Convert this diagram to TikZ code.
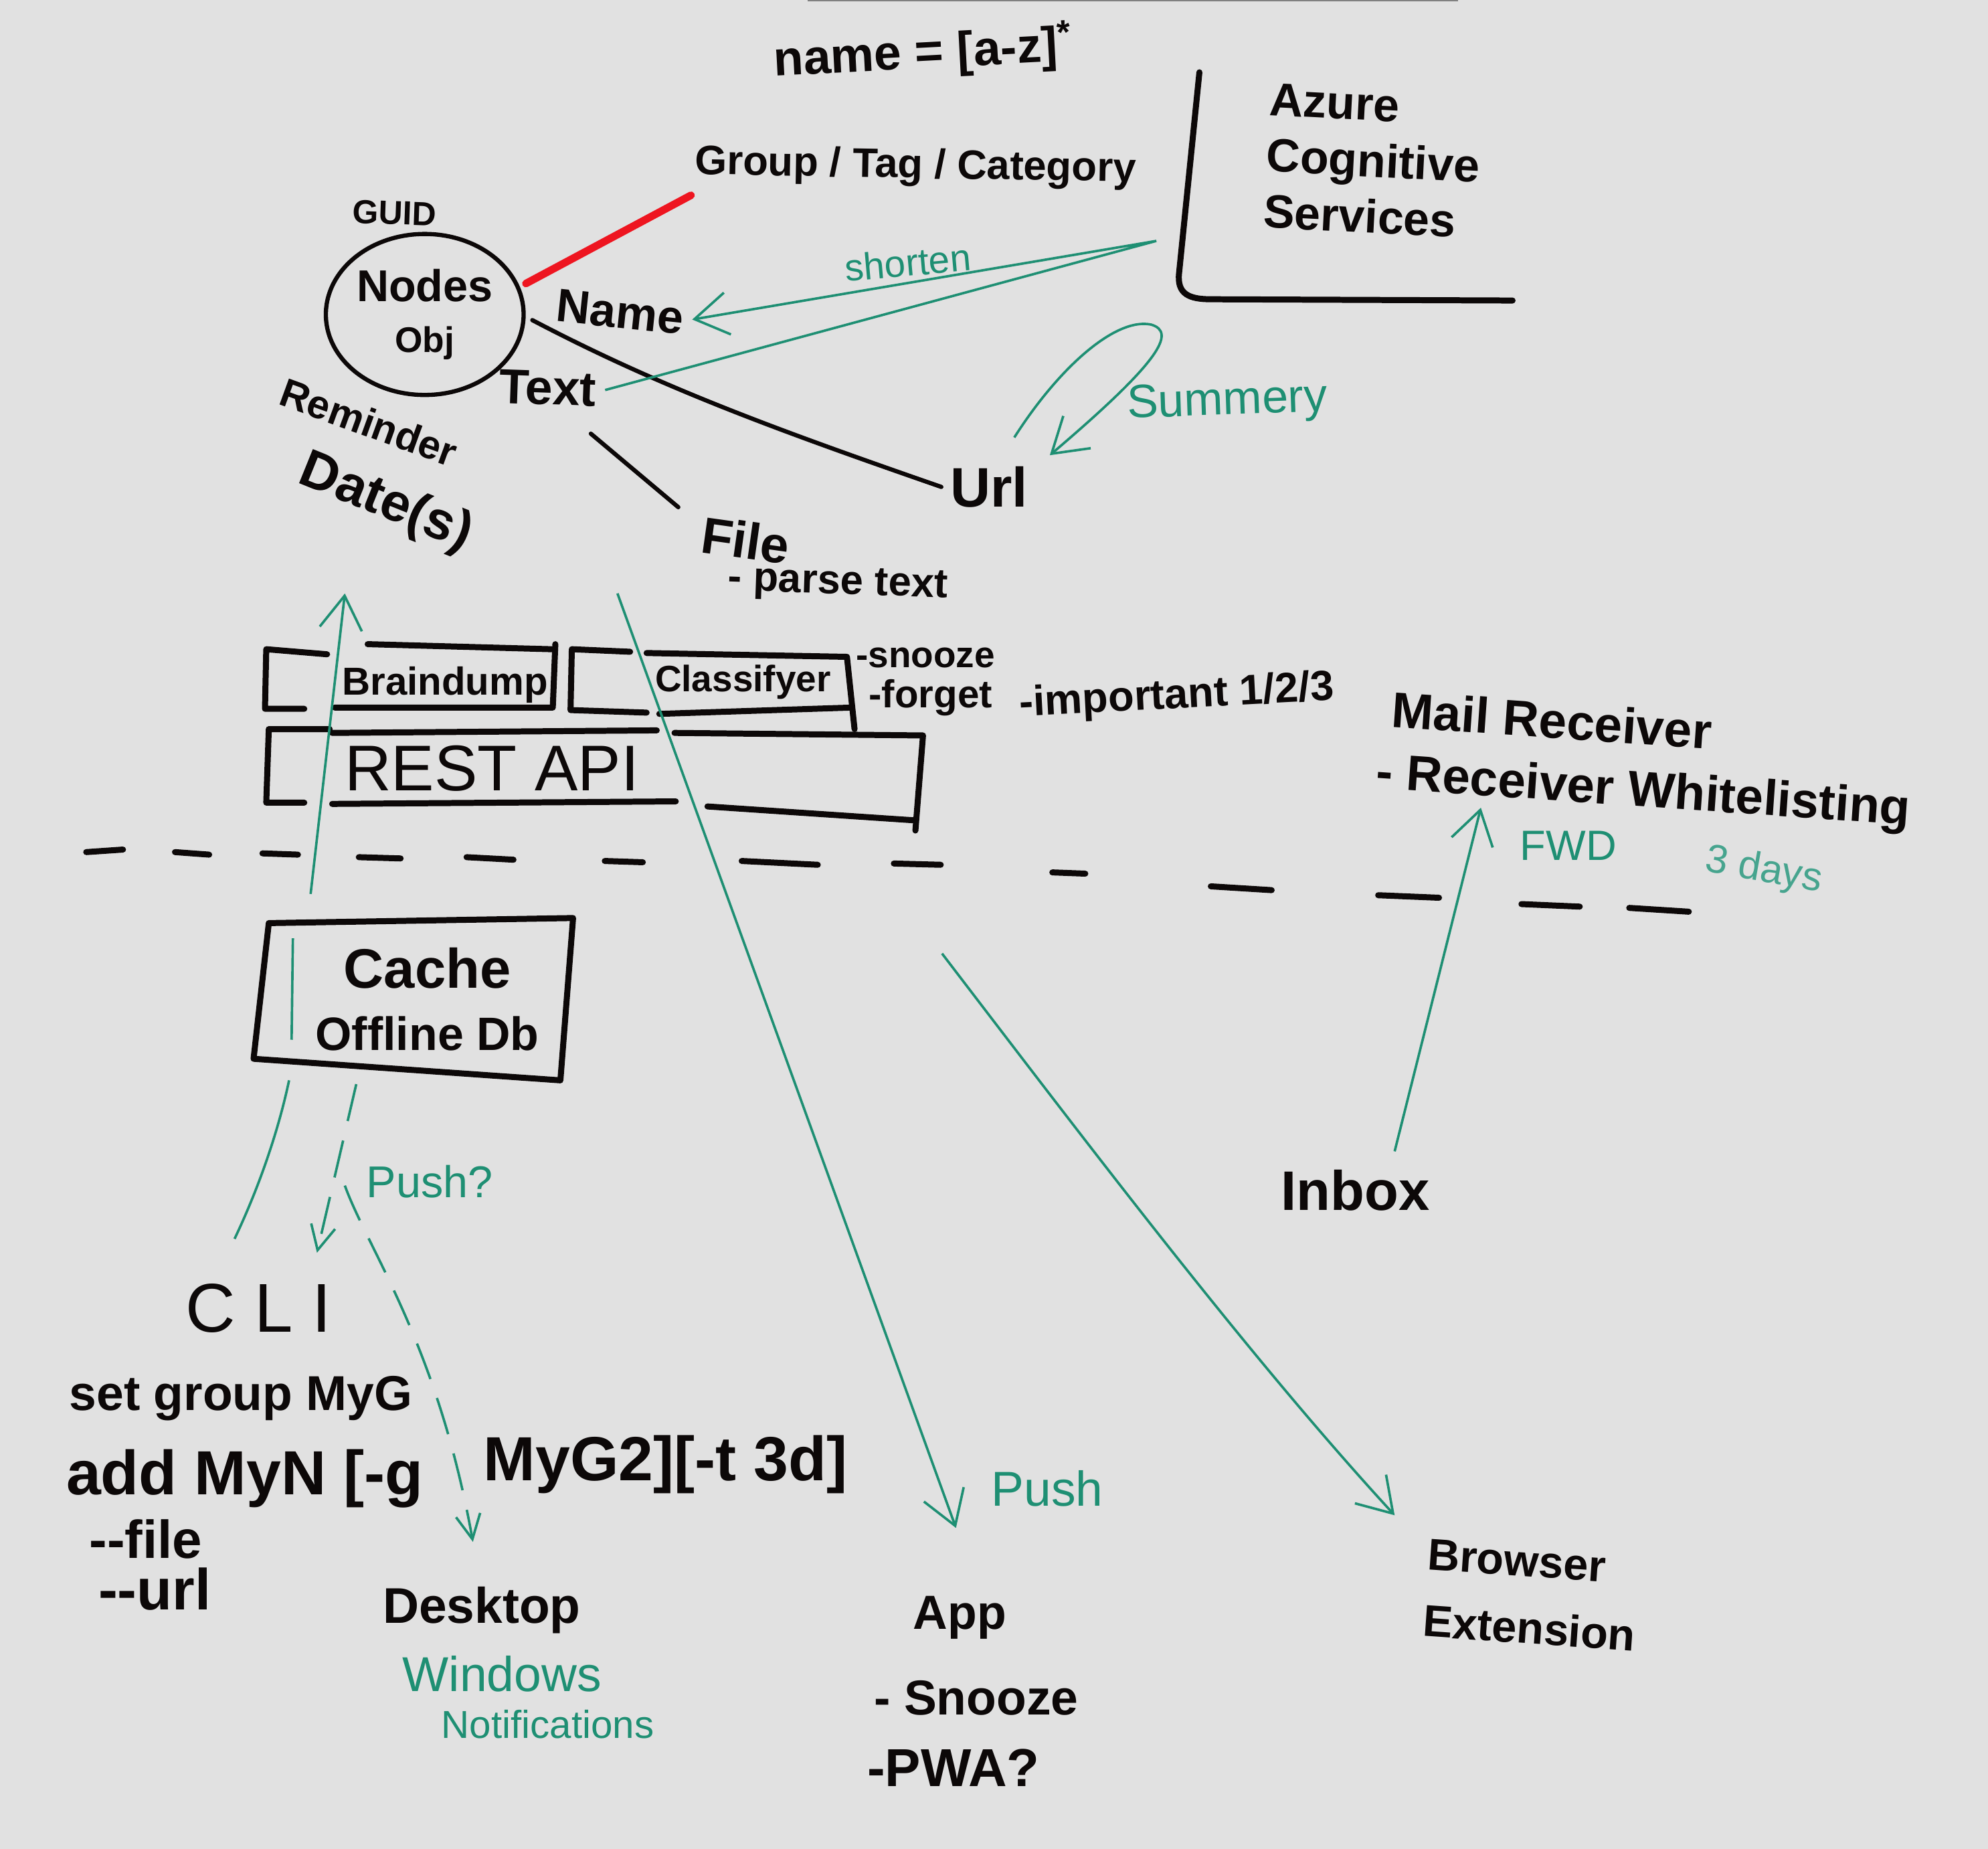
\documentclass[tikz,border=0pt]{standalone}
\usepackage{fontspec}
\usepackage{xcolor}
\usepackage{tikz}
\usetikzlibrary{shapes.geometric, arrows.meta, calc}
\setmainfont{Liberation Sans}
\definecolor{paper}{HTML}{E1E1E1}
\definecolor{inkblack}{HTML}{0C0808}
\definecolor{penteal}{HTML}{1E8F73}
\definecolor{fadeteal}{HTML}{46A48E}
\definecolor{penred}{HTML}{EE1520}
\tikzset{
  inklabel/.style={
    text=inkblack, inner sep=0pt, outer sep=4pt, align=left,
    font=\bfseries\fontsize{#1}{\the\dimexpr #1pt*12/10\relax}\selectfont
  },
  teallabel/.style={
    text=penteal, inner sep=0pt, outer sep=4pt, align=left,
    font=\fontsize{#1}{\the\dimexpr #1pt*12/10\relax}\selectfont
  },
  blackline/.style={draw=inkblack, line width=1.9pt, line cap=round},
  boxline/.style={draw=inkblack, line width=2.7pt, line cap=round, line join=round},
  redline/.style={draw=penred, line width=3.4pt, line cap=round},
  tealline/.style={draw=penteal, line width=1.1pt},
  tealarrow/.style={tealline, -{Straight Barb[length=15pt,width=19pt]}},
  dasharrow/.style={tealline, dash pattern=on 17pt off 9pt, -{Straight Barb[length=11pt,width=11pt]}},
}
\begin{document}
\begin{tikzpicture}[x=0.02cm, y=-0.02cm]
    \path[use as bounding box, fill=paper] (0,0) rectangle (1568,1458);
    \draw[gray, line width=0.5pt] (637,0.5) -- (1150,0.5);

    % object and its fields
    \node[ellipse, draw=inkblack, line width=1.9pt, minimum width=3.12cm, minimum height=2.54cm,
      inklabel=20, inner sep=0pt, align=center] (nodeobj) at (335,248) {Nodes\\[-1pt]{\fontsize{16}{16}\selectfont Obj}};
    \node[inklabel=15, rotate=-2] (guidlabel) at (311,168) {GUID};
    \node[inklabel=21, rotate=-6] (namelabel) at (489,246) {Name};
    \node[inklabel=22, rotate=-2] (textlabel) at (432,306) {Text};
    \node[inklabel=25] (urllabel) at (780,384) {Url};
    \node[inklabel=23, rotate=-8] (filelabel) at (588,426) {File};
    \node[inklabel=18.5, rotate=-2] (parselabel) at (661,461) {- parse text};
    \node[inklabel=18, rotate=-20] (reminderlabel) at (291,333) {Reminder};
    \node[inklabel=24, rotate=-22] (datelabel) at (304,397) {Date(s)};
    \node[inklabel=22, rotate=3] (namerule) at (728,42) {name = [a-z]\textsuperscript{*}};
    \node[inklabel=18.5, rotate=-1] (grouptag) at (722,132) {Group / Tag / Category};
    \node[inklabel=21, rotate=-3] (azurelabel) at (1083,127) {Azure\\Cognitive\\Services};

    % service boxes
    \node[inklabel=17.5] (dumplabel) at (351,540) {Braindump};
    \node[inklabel=16.5] (classlabel) at (586,538) {Classifyer};
    \node[inklabel=16.5] (snoozeflag) at (730,519) {-snooze};
    \node[inklabel=17.5] (forgetflag) at (734,550) {-forget};
    \node[inklabel=19, rotate=3] (importantflag) at (928,550) {-important 1/2/3};
    \node[inklabel=29] (restlabel) at (388,606) {\mdseries REST API};
    \node[inklabel=22.5, rotate=-4] (maillabel) at (1224,568) {Mail Receiver};
    \node[inklabel=22.4, rotate=-4] (whitelabel) at (1296,626) {- Receiver Whitelisting};
    \node[teallabel=19] (fwdlabel) at (1237,667) {FWD};
    \node[teallabel=18, rotate=-10, text=fadeteal] (dayslabel) at (1391,687) {3 days};
    \node[inklabel=25, align=center] (cachelabel) at (337,788) {Cache\\[-2pt]{\fontsize{21}{21}\selectfont Offline Db}};

    % clients
    \node[teallabel=20] (pushask) at (339,932) {Push?};
    \node[inklabel=31] (clilabel) at (204,1032) {\mdseries C L I};
    \node[inklabel=22] (setlabel) at (190,1103) {set group MyG};
    \node[inklabel=28] (addlabel) at (193,1166) {add MyN [-g};
    \node[inklabel=28] (addrest) at (525,1155) {MyG2][-t 3d]};
    \node[inklabel=24] (filearg) at (115,1214) {-{}-file};
    \node[inklabel=26] (urlarg) at (122,1253) {-{}-url};
    \node[inklabel=22.5] (desktoplabel) at (380,1270) {Desktop};
    \node[teallabel=22] (windowslabel) at (396,1320) {Windows};
    \node[teallabel=17.5] (notifylabel) at (432,1360) {Notifications};
    \node[teallabel=22] (pushlabel) at (826,1174) {Push};
    \node[inklabel=21.5] (applabel) at (757,1276) {App};
    \node[inklabel=22] (snoozelabel) at (770,1339) {- Snooze};
    \node[inklabel=24] (pwalabel) at (752,1394) {-PWA?};
    \node[inklabel=20, rotate=-4] (browserlabel) at (1208,1258) {Browser\\[6pt]Extension};
    \node[inklabel=25] (inboxlabel) at (1069,939) {Inbox};
    \node[teallabel=17, rotate=5] (shortenlabel) at (716,207) {shorten};
    \node[teallabel=21, rotate=2] (summerylabel) at (968,318) {Summery};

    \coordinate (groupin) at (545,154);
    \coordinate (filestart) at (466,342);
    \coordinate (fileend) at (535,400);
    \coordinate (azurein) at (912,190);
    \coordinate (loopout) at (800,345);
    \coordinate (loopin) at (828,359);
    \coordinate (nodeup) at (272,468);
    \coordinate (cacheup) at (245,705);
    \coordinate (cachedown) at (228,852);
    \coordinate (cliup) at (185,977);
    \coordinate (clidown) at (250,988);
    \coordinate (cachepush) at (281,855);
    \coordinate (pushsplit) at (272,935);
    \coordinate (deskin) at (373,1216);
    \coordinate (apiout) at (487,468);
    \coordinate (appin) at (754,1205);
    \coordinate (cacheout) at (743,752);
    \coordinate (extin) at (1100,1195);
    \coordinate (inboxout) at (1100,908);
    \coordinate (mailin) at (1168,637);

    % hand drawn outlines
    \draw[boxline] (946,57) -- (930,215) .. controls (928,232) and (938,236) .. (955,236) -- (1193,237);
    \draw[boxline] (258,516) -- (210,512) -- (209,559) -- (240,559);
    \draw[boxline] (264,558) -- (436,558) -- (438,508);
    \draw[boxline] (290,508) -- (435,512);
    \draw[boxline] (497,514) -- (451,512) -- (450,560) -- (510,562);
    \draw[boxline] (520,563) -- (672,558);
    \draw[boxline] (510,515) -- (668,518) -- (674,575);
    \draw[boxline] (260,575) -- (212,575) -- (210,633) -- (240,633);
    \draw[boxline] (262,578) -- (518,576);
    \draw[boxline] (532,578) -- (728,580) -- (722,655);
    \draw[boxline] (262,634) -- (533,632);
    \draw[boxline] (558,636) -- (722,647);
    \draw[boxline] (212,728) -- (452,724) -- (442,852) -- (200,835) -- cycle;

    % network boundary
    \foreach \xa/\ya/\xb/\yb in {68/672/97/670, 138/672/165/674, 207/673/235/674, 283/676/316/677,
      368/676/405/678, 477/679/507/680, 585/679/645/682, 705/681/742/682, 830/688/856/689,
      955/699/1003/702, 1087/706/1135/708, 1200/713/1246/715, 1285/716/1332/719}
      \draw[boxline] (\xa,\ya) -- (\xb,\yb);

    \draw[redline] (nodeobj.17) -- (groupin);
    \draw[blackline] (nodeobj.-3) .. controls (520,305) and (610,338) .. (urllabel.west);
    \draw[blackline] (filestart) -- (fileend);

    \draw[tealarrow] (textlabel.east) -- (azurein) -- (namelabel.east);
    \draw[tealarrow] (loopout) .. controls (835,290) and (880,250) .. (908,256)
      .. controls (928,262) and (915,285) .. (loopin);
    \draw[tealline] (cliup) .. controls (205,935) and (220,890) .. (cachedown);
    \draw[tealline] (231,740) -- (230,820);
    \draw[tealarrow] (cacheup) -- (nodeup);
    \draw[dasharrow] (cachepush) -- (clidown);
    \draw[dasharrow] (pushsplit) .. controls (290,985) and (345,1060) .. (deskin);
    \draw[tealarrow] (apiout) -- (appin);
    \draw[tealarrow] (cacheout) .. controls (860,905) and (985,1070) .. (extin);
    \draw[tealarrow] (inboxout) -- (mailin);
  \end{tikzpicture}
\end{document}
